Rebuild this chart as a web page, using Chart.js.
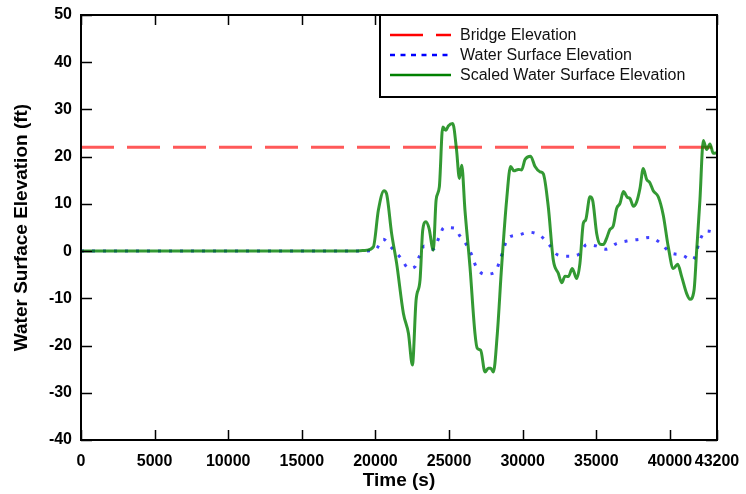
<!DOCTYPE html>
<html>
<head>
<meta charset="utf-8">
<title>Water Surface Elevation</title>
<script src="https://cdn.jsdelivr.net/npm/chart.js@4.4.1/dist/chart.umd.min.js"></script>
<style>
  html, body { margin: 0; padding: 0; background: #fff; }
</style>
</head>
<body>
<canvas id="chart" width="746" height="494"></canvas>
<script>
// --- data ---
const xTicks = [0, 5000, 10000, 15000, 20000, 25000, 30000, 35000, 40000, 43200];

const bridgeTime = [0, 43200];
const bridgeElev = [22, 22];

const waterTime = [0, 19000, 19970, 20530, 21100, 21710, 22280, 22690, 22980, 23320, 23930, 24320, 24660,
  25360, 25740, 26150, 26540, 26810, 27400, 28120, 28460, 29030, 29700, 30450, 31220, 31810, 32380,
  33150, 33850, 34350, 34980, 35660, 36380, 37170, 37920, 38600, 39330, 40080, 40800, 41540, 42090,
  42450, 43200];
const waterElev = [0, 0, 0.2, 2.5, 0.7, -1.4, -3.7, -3.3, -1.1, 1.1, 0.4, 2.9, 5.0,
  4.9, 3.2, 1.5, -0.8, -3.1, -4.9, -4.5, -1.9, 2.8, 3.4, 4.0, 3.2, 1.3, -0.8,
  -1.1, -0.6, 1.4, 1.1, 0.4, 1.6, 2.2, 2.5, 2.9, 1.8, -0.4, -0.8, -1.9, 2.7,
  4.3, 3.9];

const scaledTime = [0, 18500, 19400, 19860, 20200, 20580, 20750, 21100, 21440, 21900, 22240, 22510,
  22760, 23030, 23210, 23430, 23640, 23930, 24120, 24340, 24570, 24790, 24950, 25250, 25510, 25700,
  25860, 26080, 26420, 26760, 26920, 27150, 27440, 27670, 27830, 28010, 28280, 28570, 28910, 29180,
  29410, 29700, 29930, 30160, 30540, 30840, 31180, 31400, 31740, 32080, 32420, 32650, 32880, 33100,
  33370, 33670, 33890, 34120, 34280, 34570, 34750, 35030, 35250, 35480, 35700, 35930, 36150, 36380,
  36610, 36840, 37110, 37300, 37520, 37740, 37970, 38190, 38420, 38640, 38870, 39210, 39550, 39890,
  40230, 40530, 40800, 41140, 41370, 41640, 41820, 42040, 42270, 42500, 42720, 42950, 43200];
const scaledElev = [0, 0, 0.2, 0.9, 8.7, 12.8, 12.2, 3.7, -2.6, -13.2, -17.4, -24.1,
  -10.4, -6.1, 4.4, 6.2, 4.8, 0.2, 10.8, 13.6, 26.3, 25.6, 26.5, 27.0, 21.4, 15.4,
  18.2, 8.7, -3.3, -17.4, -20.6, -21, -25.6, -24.8, -24.8, -25.6, -17.4, -3.3, 10.8, 17.9,
  17.0, 17.3, 17.2, 19.4, 20.1, 17.9, 16.8, 16.4, 9.4, -1.9, -4.7, -6.7, -5.3, -5.4,
  -3.7, -5.8, -2.6, 5.9, 6.6, 11.5, 10.8, 3.7, 1.5, 1.4, 2.7, 4.6, 5.3, 9.0,
  10.1, 12.6, 11.4, 11.1, 9.5, 10.4, 13.3, 17.5, 15.2, 14.5, 12.8, 11.5, 7.6, 0.9,
  -3.7, -2.8, -5.4, -9.0, -10.2, -8.3, 0.2, 10.8, 23.4, 21.5, 22.7, 20.7, 20.8];

const legendItems = [
  { text: 'Bridge Elevation', color: '#ff0000', dash: [33, 13] },
  { text: 'Water Surface Elevation', color: '#0000ff', dash: [5, 5.5] },
  { text: 'Scaled Water Surface Elevation', color: '#008000', dash: [] }
];

const FONT = "'Liberation Sans', Arial, Helvetica, sans-serif";

function pts(xs, ys) { return xs.map((x, i) => ({ x: x, y: ys[i] })); }

// frame + inward ticks
const framePlugin = {
  id: 'frame',
  afterDatasetsDraw(chart) {
    const { ctx, chartArea: a, scales } = chart;
    ctx.save();
    ctx.strokeStyle = '#000';
    ctx.lineWidth = 1.5;
    ctx.beginPath();
    scales.x.ticks.forEach(t => {
      const px = Math.round(scales.x.getPixelForValue(t.value)) + 0.5;
      ctx.moveTo(px, a.bottom); ctx.lineTo(px, a.bottom - 10);
      ctx.moveTo(px, a.top); ctx.lineTo(px, a.top + 10);
    });
    scales.y.ticks.forEach(t => {
      const py = Math.round(scales.y.getPixelForValue(t.value)) + 0.5;
      ctx.moveTo(a.left, py); ctx.lineTo(a.left + 11, py);
      ctx.moveTo(a.right, py); ctx.lineTo(a.right - 11, py);
    });
    ctx.stroke();
    ctx.lineWidth = 2;
    ctx.strokeRect(a.left, a.top, a.right - a.left, a.bottom - a.top);
    ctx.restore();
  }
};

// boxed legend in the top right corner
const boxLegend = {
  id: 'boxLegend',
  afterDraw(chart) {
    const { ctx, chartArea: a } = chart;
    const w = 337, h = 82;
    const x0 = a.right - w, y0 = a.top;
    ctx.save();
    ctx.fillStyle = '#fff';
    ctx.fillRect(x0, y0, w, h);
    ctx.strokeStyle = '#000';
    ctx.lineWidth = 2;
    ctx.strokeRect(x0, y0, w, h);
    ctx.font = '16px ' + FONT;
    ctx.textBaseline = 'middle';
    legendItems.forEach((it, i) => {
      const cy = y0 + 20 + i * 20;
      ctx.strokeStyle = it.color;
      ctx.lineWidth = 2.5;
      ctx.setLineDash(it.dash);
      ctx.beginPath();
      ctx.moveTo(x0 + 10, cy); ctx.lineTo(x0 + 71, cy);
      ctx.stroke();
      ctx.setLineDash([]);
      ctx.fillStyle = '#111';
      ctx.fillText(it.text, x0 + 80, cy + 1);
    });
    ctx.restore();
  }
};

new Chart(document.getElementById('chart'), {
  type: 'line',
  data: {
    datasets: [
      {
        label: 'Bridge Elevation',
        data: pts(bridgeTime, bridgeElev),
        borderColor: 'rgba(255,0,0,0.65)',
        borderWidth: 3,
        borderDash: [33, 13],
        pointRadius: 0,
        order: 3
      },
      {
        label: 'Water Surface Elevation',
        data: pts(waterTime, waterElev),
        borderColor: 'rgba(0,0,255,0.75)',
        borderWidth: 3,
        borderDash: [3, 8],
        pointRadius: 0,
        cubicInterpolationMode: 'monotone',
        order: 2
      },
      {
        label: 'Scaled Water Surface Elevation',
        data: pts(scaledTime, scaledElev),
        borderColor: 'rgba(0,128,0,0.8)',
        borderWidth: 3,
        pointRadius: 0,
        cubicInterpolationMode: 'monotone',
        order: 1
      }
    ]
  },
  options: {
    responsive: false,
    animation: false,
    layout: { padding: { top: 15, right: 29, left: 0, bottom: 0 } },
    plugins: { legend: { display: false }, tooltip: { enabled: false } },
    scales: {
      x: {
        type: 'linear',
        min: 0,
        max: 43200,
        afterBuildTicks: s => { s.ticks = xTicks.map(v => ({ value: v })); },
        afterFit: s => { s.height = 54; s.paddingLeft = 0; s.paddingRight = 0; },
        grid: { display: false, drawTicks: false },
        border: { display: false },
        ticks: {
          autoSkip: false,
          maxRotation: 0,
          padding: 12,
          color: '#000',
          font: { family: FONT, size: 16, weight: 'bold' },
          callback: v => String(v)
        },
        title: {
          display: true,
          text: 'Time (s)',
          color: '#000',
          padding: { top: 0, bottom: 2 },
          font: { family: FONT, size: 19, weight: 'bold' }
        }
      },
      y: {
        min: -40,
        max: 50,
        afterFit: s => { s.width = 81; s.paddingTop = 0; s.paddingBottom = 0; },
        grid: { display: false, drawTicks: false },
        border: { display: false },
        ticks: {
          stepSize: 10,
          padding: 9,
          color: '#000',
          font: { family: FONT, size: 16, weight: 'bold' },
          callback: v => String(v)
        },
        title: {
          display: true,
          text: 'Water Surface Elevation (ft)',
          color: '#000',
          padding: { top: 10, bottom: 0 },
          font: { family: FONT, size: 19, weight: 'bold' }
        }
      }
    }
  },
  plugins: [framePlugin, boxLegend]
});
</script>
</body>
</html>
